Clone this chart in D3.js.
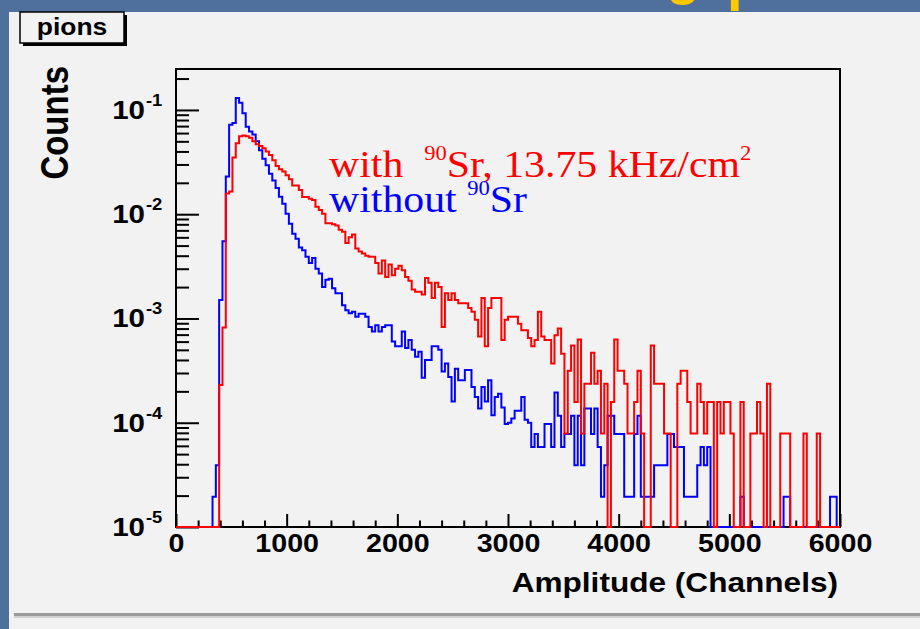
<!DOCTYPE html>
<html>
<head>
<meta charset="utf-8">
<script src="https://cdn.jsdelivr.net/npm/d3@7"></script>
<style>
  body { margin: 0; background: #4f6f9c; }
  svg { display: block; }
</style>
</head>
<body>
<svg id="chart" width="920" height="629"></svg>
<script>
// histogram bins: 200 bins of 30 channels from 0 to 6000
const binLow = d3.range(0, 6000, 30);

// normalised counts per bin
const withSr = [
  0, 0, 0, 0, 0, 0, 0, 0, 0, 0, 0, 0, 0,
  0.00023, 0.00082, 0.0158, 0.0165, 0.035, 0.048, 0.056, 0.057, 0.056, 0.054,
  0.050, 0.047, 0.045, 0.043, 0.040, 0.037, 0.033, 0.029, 0.027, 0.0257,
  0.0236, 0.0216, 0.0188, 0.0188, 0.0171, 0.0146, 0.0146, 0.0141, 0.0137, 0.0118,
  0.0110, 0.0101, 0.0082, 0.0082, 0.0080, 0.0078, 0.0071, 0.0068, 0.0053, 0.0060,
  0.0064, 0.0047, 0.0044, 0.0042, 0.0040, 0.0039, 0.0039, 0.0034, 0.0027, 0.0036,
  0.0025, 0.0033, 0.0026, 0.0030, 0.0032, 0.0029, 0.0025, 0.0023, 0.0019, 0.0018,
  0.0018, 0.0017, 0.00245, 0.0022, 0.00157, 0.0022, 0.0020, 0.00083, 0.00175, 0.0015,
  0.00175, 0.0015, 0.0014, 0.0014, 0.0014, 0.00126, 0.00116, 0.00097, 0.00067, 0.00157,
  0.00054, 0.00126, 0.00157, 0.00157, 0.00157, 0.00062, 0.00097, 0.00104, 0.00104, 0.00104,
  0.00089, 0.00077, 0.00077, 0.00065, 0.00054, 0.00062, 0.00116, 0.00067, 0.00062, 0.00062,
  0.00037, 0.00069, 0.00080, 0.00046, 0.000079, 0.000316, 0.00055, 0.000158, 0.00063, 0.000079,
  0.000237, 0.000237, 0.00047, 0.000237, 0.000316, 0.000079, 0.000237, 0, 0.000158, 0.00063,
  0.000316, 0.000316, 0.000237, 0.000079, 0.000079, 0.000158, 0.000316, 0.000079, 0, 0,
  0.00055, 0.000237, 0.000237, 0.000237, 0.000079, 0.000079, 0, 0, 0.000237, 0.000316,
  0.000316, 0.000158, 0.000079, 0.000079, 0.000237, 0.000158, 0.000079, 0.000158, 0.000158, 0,
  0.000158, 0.000079, 0.000158, 0.000158, 0.000079, 0, 0, 0.000158, 0, 0,
  0.000079, 0.000079, 0.000158, 0.000079, 0, 0.000237, 0, 0, 0, 0.000079,
  0.000079, 0.000079, 0, 0, 0, 0, 0.000079, 0, 0, 0,
  0.000079, 0, 0, 0, 0, 0, 0
];

const withoutSr = [
  0, 0, 0, 0, 0, 0, 0, 0, 0, 0, 0,
  0.0000195, 0.000039, 0.0015, 0.0055, 0.023, 0.072, 0.075, 0.13, 0.117, 0.093,
  0.069, 0.062, 0.058, 0.050, 0.041, 0.034, 0.0295, 0.0245, 0.021, 0.0178,
  0.0147, 0.0126, 0.0101, 0.0081, 0.0065, 0.0058, 0.0048, 0.0045, 0.0039, 0.0034,
  0.0038, 0.0030, 0.0027, 0.0020, 0.00235, 0.0024, 0.00195, 0.00175, 0.00175, 0.00134,
  0.0012, 0.00112, 0.00116, 0.00104, 0.00111, 0.00111, 0.00104, 0.00083, 0.00075, 0.00086,
  0.00075, 0.00083, 0.00086, 0.00086, 0.0006, 0.00054, 0.00054, 0.00075, 0.00052, 0.00062,
  0.0005, 0.00043, 0.00048, 0.00027, 0.0004, 0.0004, 0.00054, 0.00054, 0.0005, 0.00031,
  0.00037, 0.000275, 0.00016, 0.00033, 0.000256, 0.000256, 0.00032, 0.00032, 0.00022, 0.000177,
  0.000137, 0.00022, 0.00016, 0.000256, 0.000118, 0.000177, 0.00019, 0.00014, 0.000097, 0.0001,
  0.00011, 0.00013, 0.00013, 0.000177, 0.000107, 0.0001, 0.0000585, 0.000078, 0.0000585, 0.0000585,
  0.0000975, 0.0000975, 0.0000585, 0.000195, 0.000117, 0.0000585, 0.000078, 0.000078, 0.000117, 0.000039,
  0.000117, 0.000039, 0.000137, 0.000137, 0.000078, 0.000137, 0.0000585, 0.0000195, 0.000039, 0.000117,
  0.000117, 0.000078, 0.000078, 0.000078, 0.0000195, 0.0000195, 0.0000195, 0.000078, 0.000117, 0.0000195,
  0.0000195, 0.0000195, 0.0000195, 0.000039, 0.000039, 0.000039, 0.000039, 0.000078, 0.000078, 0.0000585,
  0.0000585, 0.0000585, 0.0000195, 0.0000195, 0.0000195, 0.0000195, 0.000039, 0.0000585, 0.000039, 0.0000585,
  0, 0, 0, 0, 0, 0, 0, 0, 0, 0.0000195,
  0, 0, 0, 0, 0, 0, 0, 0, 0, 0, 0, 0,
  0.0000195, 0.0000195,
  0, 0, 0, 0, 0, 0, 0, 0, 0, 0, 0, 0,
  0.0000195, 0.0000195, 0
];

const xTickValues = [0, 1000, 2000, 3000, 4000, 5000, 6000];
const yTickValues = [1e-5, 1e-4, 1e-3, 1e-2, 1e-1];
const yTickExponents = ["-5", "-4", "-3", "-2", "-1"];
const seriesColors = ["#0000ff", "#ff0000"];
const legendLines = [
  { color: "#ff0000", parts: ["with\u00a0\u00a0", "90", "Sr, 13.75 kHz/cm", "2"] },
  { color: "#0000ff", parts: ["without ", "90", "Sr"] }
];

const svg = d3.select("#chart");
const frame = { left: 176, right: 840, top: 69, bottom: 527 };
const sans = "'Liberation Sans', Arial, Helvetica, sans-serif";
const serif = "'Liberation Serif', 'Times New Roman', serif";

const x = d3.scaleLinear().domain([0, 6000]).range([frame.left, frame.right]);
const y = d3.scaleLog().domain([1e-5, 0.247]).range([frame.bottom, frame.top]);

// slide background and canvas
svg.append("rect").attr("width", 920).attr("height", 629).attr("fill", "#4f6f9c");
// bits of the slide title peeking out above the canvas
const title = svg.append("text")
  .attr("font-family", sans).attr("font-weight", "bold").attr("font-size", 56)
  .attr("fill", "#ffc800");
title.append("tspan").attr("x", 666).attr("y", -7).text("g");
title.append("tspan").attr("x", 727).attr("y", -1).text("p");
svg.append("rect").attr("x", 9).attr("y", 12).attr("width", 911).attr("height", 617).attr("fill", "#f2f2f2");
svg.append("rect").attr("x", 14).attr("y", 613).attr("width", 906).attr("height", 3).attr("fill", "#9a9a9a");
svg.append("rect").attr("x", 14).attr("y", 616).attr("width", 906).attr("height", 2).attr("fill", "#d0d0d0");

// title box
svg.append("rect").attr("x", 23).attr("y", 15).attr("width", 104).attr("height", 31).attr("fill", "#000");
svg.append("rect").attr("x", 20).attr("y", 12).attr("width", 104).attr("height", 31)
  .attr("fill", "#f2f2f2").attr("stroke", "#000").attr("stroke-width", 1.5);
svg.append("text")
  .attr("transform", "translate(72,35) scale(1.15,1)")
  .attr("text-anchor", "middle")
  .attr("font-family", sans).attr("font-weight", "bold").attr("font-size", 23)
  .text("pions");

// frame
svg.append("rect")
  .attr("x", frame.left).attr("y", frame.top)
  .attr("width", frame.right - frame.left).attr("height", frame.bottom - frame.top)
  .attr("fill", "none").attr("stroke", "#000").attr("stroke-width", 2);

// x axis, major and minor ticks pointing up
const xMinor = d3.range(200, 6000, 200).filter(v => v % 1000 !== 0);
const xAxis = svg.append("g")
  .attr("transform", `translate(0,${frame.bottom})`)
  .call(d3.axisBottom(x).tickValues(xTickValues).tickSize(-13).tickFormat(d3.format("d")));
xAxis.select(".domain").remove();
xAxis.selectAll("line").attr("stroke-width", 2);
xAxis.selectAll("text")
  .attr("y", 25).attr("dy", 0)
  .attr("transform", "scale(1.1,1)")
  .attr("font-family", sans).attr("font-weight", "bold").attr("font-size", 26).attr("fill", "#000");

const xAxisMinor = svg.append("g")
  .attr("transform", `translate(0,${frame.bottom})`)
  .call(d3.axisBottom(x).tickValues(xMinor).tickSize(-6.5).tickFormat(""));
xAxisMinor.select(".domain").remove();
xAxisMinor.selectAll("line").attr("stroke-width", 2);

// y axis, log, ticks pointing right
const yMinor = [];
[-5, -4, -3, -2, -1].forEach(e => {
  for (let m = 2; m <= 9; m++) {
    const v = m * Math.pow(10, e);
    if (v < 0.247) yMinor.push(v);
  }
});
const yAxis = svg.append("g")
  .attr("transform", `translate(${frame.left},0)`)
  .call(d3.axisLeft(y).tickValues(yTickValues).tickSize(-23).tickFormat(""));
yAxis.select(".domain").remove();
yAxis.selectAll("line").attr("stroke-width", 2);

const yAxisMinor = svg.append("g")
  .attr("transform", `translate(${frame.left},0)`)
  .call(d3.axisLeft(y).tickValues(yMinor).tickSize(-13).tickFormat(""));
yAxisMinor.select(".domain").remove();
yAxisMinor.selectAll("line").attr("stroke-width", 2);

// y tick labels as 10 with superscript exponent
yTickValues.forEach((t, i) => {
  svg.append("text")
    .attr("transform", `translate(145,${y(t) + 9}) scale(1.18,1)`)
    .attr("text-anchor", "end")
    .attr("font-family", sans).attr("font-weight", "bold").attr("font-size", 25)
    .text("10");
  svg.append("text")
    .attr("transform", `translate(146,${y(t) - 4}) scale(1.15,1)`)
    .attr("font-family", sans).attr("font-weight", "bold").attr("font-size", 16)
    .text(yTickExponents[i]);
});

// axis titles
svg.append("text")
  .attr("transform", "translate(838,592) scale(1.17,1)")
  .attr("text-anchor", "end")
  .attr("font-family", sans).attr("font-weight", "bold").attr("font-size", 27)
  .text("Amplitude (Channels)");
svg.append("text")
  .attr("transform", "translate(68,66) rotate(-90) scale(1,1.2)")
  .attr("text-anchor", "end")
  .attr("font-family", sans).attr("font-weight", "bold").attr("font-size", 33)
  .text("Counts");

// histograms
svg.append("clipPath").attr("id", "plot-clip")
  .append("rect")
  .attr("x", frame.left).attr("y", frame.top)
  .attr("width", frame.right - frame.left).attr("height", frame.bottom - frame.top + 2);

const line = d3.line()
  .x(d => x(d[0]))
  .y(d => y(Math.max(d[1], 1e-5)))
  .curve(d3.curveStepAfter);

[withoutSr, withSr].forEach((vals, k) => {
  const pts = binLow.map((lo, i) => [lo, vals[i]]);
  pts.push([6000, vals[vals.length - 1]]);
  svg.append("path")
    .attr("clip-path", "url(#plot-clip)")
    .attr("d", line(pts))
    .attr("fill", "none")
    .attr("stroke", seriesColors[k])
    .attr("stroke-width", 2);
});

// legend text
legendLines.forEach((l, i) => {
  const t = svg.append("text")
    .attr("transform", `translate(329,${177 + i * 35}) scale(1.13,1)`)
    .attr("font-family", serif).attr("font-size", 37).attr("fill", l.color);
  l.parts.forEach((p, j) => {
    const sup = j % 2 === 1;
    t.append("tspan")
      .attr("font-size", sup ? 20 : 37)
      .attr("dy", j === 0 ? 0 : (sup ? -17 : 17))
      .text(p);
  });
});
</script>
</body>
</html>
